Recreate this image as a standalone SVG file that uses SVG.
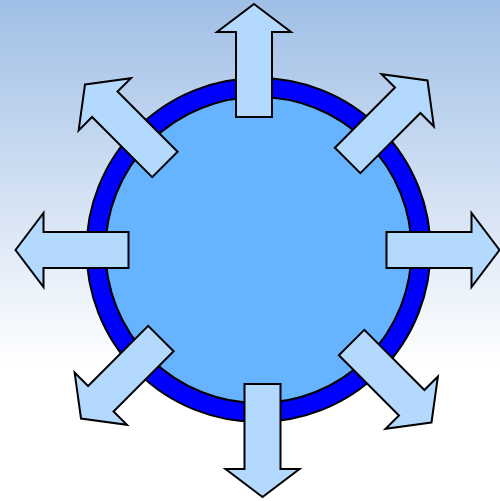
<svg xmlns="http://www.w3.org/2000/svg" width="500" height="501" viewBox="0 0 500 501">
<defs>
<linearGradient id="bg" x1="0" y1="0" x2="0" y2="1">
<stop offset="0" stop-color="#a0bfe6"/>
<stop offset="0.73" stop-color="#ffffff"/>
<stop offset="1" stop-color="#ffffff"/>
</linearGradient>
<path id="arr" d="M0,0 L37,28 L18,28 L18,113 L-18,113 L-18,28 L-37,28 Z"/>
</defs>
<style>
.ring{fill:#0000ff;stroke:#000;stroke-width:2}
.core{fill:#66b3ff;stroke:#000;stroke-width:2}
.a{fill:#b3d9ff;stroke:#000;stroke-width:2;stroke-linejoin:miter}
</style>
<rect x="0" y="0" width="500" height="501" fill="url(#bg)"/>
<g id="circle">
<circle class="ring" cx="258.5" cy="250" r="172"/>
<circle class="core" cx="258.5" cy="250" r="153"/>
</g>
<g id="arrows">
<g id="arrow-n"><use href="#arr" class="a" transform="translate(254,4)"/></g>
<g id="arrow-ne"><use href="#arr" class="a" transform="translate(427.5,80.5) rotate(45)"/></g>
<g id="arrow-e"><use href="#arr" class="a" transform="translate(499.5,250) rotate(90)"/></g>
<g id="arrow-se"><use href="#arr" class="a" transform="translate(431.5,422.5) rotate(135)"/></g>
<g id="arrow-s"><use href="#arr" class="a" transform="translate(262.5,497) rotate(180)"/></g>
<g id="arrow-sw"><use href="#arr" class="a" transform="translate(81,418.5) rotate(-135)"/></g>
<g id="arrow-w"><use href="#arr" class="a" transform="translate(15.5,250) rotate(-90)"/></g>
<g id="arrow-nw"><use href="#arr" class="a" transform="translate(85,84.5) rotate(-45)"/></g>
</g>
</svg>
